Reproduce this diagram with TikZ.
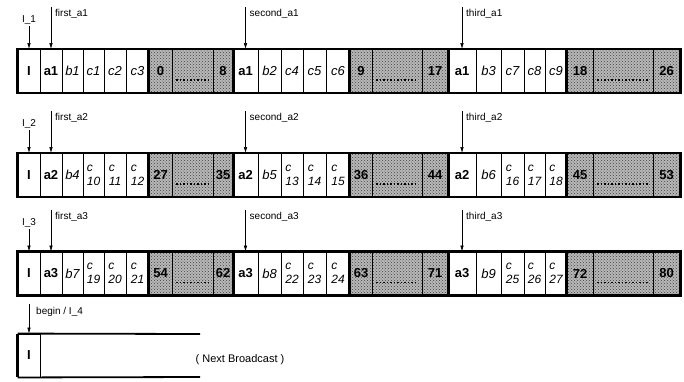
\documentclass[tikz,border=0pt]{standalone}
\usepackage{fontspec}
\setmainfont{Liberation Sans}
\usetikzlibrary{arrows.meta,patterns}

% left edges of the cells, shared by the three rows
\def\colx{{18,40,62,83,104,126,149,172,213,233,258,281,303,326,350,372,422,448,476,501,524,545,567,593,653,680}}

\begin{document}
\begin{tikzpicture}[x=1pt,y=-1pt,
  cell/.style={draw,line width=0.9pt,minimum height=43pt,inner sep=0pt,
    font=\fontsize{13}{14}\selectfont},
  hd/.style={font=\fontsize{13}{14}\selectfont\bfseries},
  it/.style={font=\fontsize{13}{14}\selectfont\itshape},
  ct/.style={align=left,font=\fontsize{12}{14}\selectfont\itshape},
  sh/.style={preaction={fill=black!28},pattern=crosshatch dots,pattern color=black!75},
  nm/.style={sh,font=\fontsize{13}{14}\selectfont\bfseries},
  dt/.style={sh,path picture={\draw[line width=1.3pt,dash pattern=on 1.5pt off 2pt]
    ([xshift=4pt,yshift=-9pt]path picture bounding box.west) --
    ([xshift=-4pt,yshift=-9pt]path picture bounding box.east);}},
  grp/.style={line width=2.4pt},
  ar/.style={-{Latex[length=6pt,width=3.5pt]},semithick},
  lb/.style={font=\fontsize{10}{11}\selectfont,inner sep=1pt}]
\useasboundingbox (0,0) rectangle (684,381);

% the three broadcast rows
\foreach \ry/\rn/\cells in {
  71/1/{I/hd,a1/hd,b1/it,c1/it,c2/it,c3/it,0/nm,{}/dt,8/nm,
        a1/hd,b2/it,c4/it,c5/it,c6/it,9/nm,{}/dt,17/nm,
        a1/hd,b3/it,c7/it,c8/it,c9/it,18/nm,{}/dt,26/nm},
  175/2/{I/hd,a2/hd,b4/it,{c\\10}/ct,{c\\11}/ct,{c\\12}/ct,27/nm,{}/dt,35/nm,
        a2/hd,b5/it,{c\\13}/ct,{c\\14}/ct,{c\\15}/ct,36/nm,{}/dt,44/nm,
        a2/hd,b6/it,{c\\16}/ct,{c\\17}/ct,{c\\18}/ct,45/nm,{}/dt,53/nm},
  273.5/3/{I/hd,a3/hd,b7/it,{c\\19}/ct,{c\\20}/ct,{c\\21}/ct,54/nm,{}/dt,62/nm,
        a3/hd,b8/it,{c\\22}/ct,{c\\23}/ct,{c\\24}/ct,63/nm,{}/dt,71/nm,
        a3/hd,b9/it,{c\\25}/ct,{c\\26}/ct,{c\\27}/ct,72/nm,{}/dt,80/nm}} {
  \foreach \tx/\st [count=\i] in \cells {
    \pgfmathsetmacro\lx{\colx[\i-1]}
    \pgfmathsetmacro\rx{\colx[\i]}
    \pgfmathsetmacro\cw{\rx-\lx}
    \node[cell,\st,minimum width=\cw pt] (p\rn-\i) at ({(\lx+\rx)/2},\ry) {\tx};
  }
  \foreach \a/\b in {7/9,15/17,23/25}
    \draw[grp] (p\rn-\a.north west) rectangle (p\rn-\b.south east);
  \draw[grp] (p\rn-1.north west) rectangle (p\rn-25.south east);
  % pointers into the row
  \node[lb,anchor=south] (n\rn-1) at ([yshift=23pt]p\rn-1.north) {I\_\rn};
  \draw[ar] (n\rn-1) -- (p\rn-1.north);
  \foreach \i/\w in {2/first,10/second,18/third} {
    \coordinate (t\rn-\i) at ([yshift=42pt]p\rn-\i.north);
    \draw[ar] (t\rn-\i) -- (p\rn-\i.north);
    \node[lb,anchor=north west] (n\rn-\i) at ([xshift=3pt,yshift=-1pt]t\rn-\i) {\w\_a\rn};
  }
}

% start of the next broadcast
\node[cell,hd,minimum width=22pt] (p4-1) at (29,355.5) {I};
\coordinate (e4a) at (200,334);
\coordinate (e4b) at (200,377);
\draw[line width=1.8pt] (p4-1.north west) -- (e4a);
\draw[line width=1.8pt] (p4-1.south west) -- (e4b);
\draw[grp] (p4-1.north west) -- (p4-1.south west);
\coordinate (t4-1) at ([yshift=30pt]p4-1.north);
\draw[ar] (t4-1) -- (p4-1.north);
\node[lb,anchor=north west] (n4-1) at ([xshift=6pt,yshift=-2pt]t4-1) {begin / I\_4};
\node[lb,font=\fontsize{11}{12}\selectfont] (nb) at (240,360) {( Next Broadcast )};
\end{tikzpicture}
\end{document}
